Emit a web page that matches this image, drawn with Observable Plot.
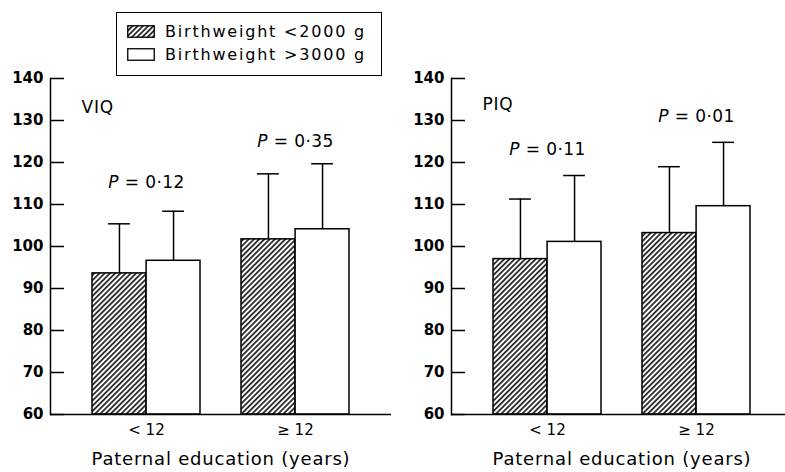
<!DOCTYPE html>
<html>
<head>
<meta charset="utf-8">
<script src="https://cdn.jsdelivr.net/npm/d3@7"></script>
<script src="https://cdn.jsdelivr.net/npm/@observablehq/plot@0.6"></script>
<style>
html, body { margin: 0; padding: 0; background: #fff; overflow: hidden; }
#wrap { position: relative; width: 785px; height: 472px; overflow: hidden; font-family: "DejaVu Sans", sans-serif; color: #000; }
.panel { position: absolute; top: 0; width: 392px; height: 472px; }
.panel svg { max-width: none !important; width: 392px; height: 472px; }
#legend { position: absolute; left: 116px; top: 12px; width: 266px; height: 64px; box-sizing: border-box; border: 1.5px solid #000; background: #fff; z-index: 2; }
#legend .row { position: absolute; left: 10px; height: 22px; display: flex; align-items: center; font-size: 16px; letter-spacing: 1.8px; white-space: nowrap; }
#legend .row svg { margin-right: 10px; }
svg .ptxt text { letter-spacing: 0.4px; }
svg .ttl text { letter-spacing: 0.8px; }
svg .xttl text { letter-spacing: 0.8px; }
</style>
</head>
<body>
<div id="wrap">
  <div id="legend">
    <div class="row" style="top:7px">
      <svg width="28" height="13"><defs>
        <pattern id="hatch" patternUnits="userSpaceOnUse" width="3.7" height="3.7" patternTransform="rotate(45)">
          <rect width="3.7" height="3.7" fill="#fff"></rect>
          <line x1="0.9" y1="0" x2="0.9" y2="3.7" stroke="#000" stroke-width="1.5"></line>
        </pattern></defs>
        <rect x="0.75" y="0.75" width="26.5" height="11.5" fill="url(#hatch)" stroke="#000" stroke-width="1.3"></rect>
      </svg><span id="lg0"></span>
    </div>
    <div class="row" style="top:30px">
      <svg width="28" height="13"><rect x="0.75" y="0.75" width="26.5" height="11.5" fill="#fff" stroke="#000" stroke-width="1.3"></rect></svg><span id="lg1"></span>
    </div>
  </div>
  <div id="left" class="panel" style="left:0px"></div>
  <div id="right" class="panel" style="left:401px"></div>
</div>
<script>
// ---- data ----
const groups = ["< 12", "≥ 12"];
const series = ["Birthweight <2000 g", "Birthweight >3000 g"];
const yTicks = [60, 70, 80, 90, 100, 110, 120, 130, 140];
const xTitle = "Paternal education (years)";

const viqLowMean = [93.6, 101.7];
const viqLowSD = [11.8, 15.6];
const viqHighMean = [96.6, 104.1];
const viqHighSD = [11.8, 15.6];
const viqP = ["P = 0·12", "P = 0·35"];
const viqPY = [115.3, 125.1];

const piqLowMean = [97.0, 103.2];
const piqLowSD = [14.3, 15.8];
const piqHighMean = [101.1, 109.6];
const piqHighSD = [15.8, 15.2];
const piqP = ["P = 0·11", "P = 0·01"];
const piqPY = [123.0, 131.0];

document.getElementById("lg0").textContent = series[0];
document.getElementById("lg1").textContent = series[1];

function panel(title, titleY, lowMean, lowSD, highMean, highSD, pLabels, pY) {
  const W = 392, H = 472, mL = 50, mR = 1, mT = 78, mB = 58;
  const pIn = 0.275, pOut = 0.28;
  const bw = d3.scaleBand().domain(groups).range([mL, W - mR]).paddingInner(pIn).paddingOuter(pOut).bandwidth();
  const low = groups.map((g, i) => ({group: g, mean: lowMean[i], sd: lowSD[i]}));
  const high = groups.map((g, i) => ({group: g, mean: highMean[i], sd: highSD[i]}));
  const pData = groups.map((g, i) => ({group: g, label: pLabels[i], y: pY[i]}));
  const y0 = yTicks[0];
  const capW = 22;
  const capInset = (bw - capW) / 2;
  const sw = 1.5;
  const svg = Plot.plot({
    width: W, height: H,
    marginLeft: mL, marginRight: mR, marginTop: mT, marginBottom: mB,
    style: {fontFamily: "DejaVu Sans", background: "transparent", overflow: "visible", color: "#000"},
    x: {domain: groups, paddingInner: pIn, paddingOuter: pOut},
    y: {domain: [yTicks[0], yTicks[yTicks.length - 1]]},
    marks: [
      // error bars (upper only)
      Plot.ruleX(low, {x: "group", y1: "mean", y2: d => d.mean + d.sd, dx: -bw / 4, stroke: "#000", strokeWidth: sw}),
      Plot.ruleX(high, {x: "group", y1: "mean", y2: d => d.mean + d.sd, dx: bw / 4, stroke: "#000", strokeWidth: sw}),
      Plot.tickY(low, {x: "group", y: d => d.mean + d.sd, dx: -bw / 4, insetLeft: capInset, insetRight: capInset, stroke: "#000", strokeWidth: sw}),
      Plot.tickY(high, {x: "group", y: d => d.mean + d.sd, dx: bw / 4, insetLeft: capInset, insetRight: capInset, stroke: "#000", strokeWidth: sw}),
      // bars
      Plot.barY(low, {x: "group", y1: () => y0, y2: "mean", insetRight: bw / 2, fill: "url(#hatch)", stroke: "#000", strokeWidth: sw}),
      Plot.barY(high, {x: "group", y1: () => y0, y2: "mean", insetLeft: bw / 2, fill: "#fff", stroke: "#000", strokeWidth: sw}),
      // axes
      Plot.ruleY([y0], {stroke: "#000", strokeWidth: sw}),
      Plot.frame({anchor: "left", stroke: "#000", strokeWidth: sw}),
      Plot.axisY({ticks: yTicks, tickFormat: d3.format("d"), tickSize: -14, tickPadding: 21, fontSize: 15, fontWeight: "bold", strokeWidth: sw, label: null}),
      Plot.axisX({tickSize: 0, tickPadding: 10, fontSize: 15, label: null}),
      // annotations
      Plot.text([title], {frameAnchor: "left", y: () => titleY, dx: 31, textAnchor: "start", fontSize: 17, className: "ttl"}),
      Plot.text(pData, {x: "group", y: "y", text: "label", fontSize: 17, className: "ptxt"}),
      Plot.text([xTitle], {frameAnchor: "bottom", dy: 50, fontSize: 18, className: "xttl"})
    ]
  });
  // italic P in the P-value labels
  svg.querySelectorAll(".ptxt text").forEach(t => {
    const s = t.textContent;
    if (s.startsWith("P")) {
      t.textContent = "";
      const ts = document.createElementNS("http://www.w3.org/2000/svg", "tspan");
      ts.setAttribute("font-style", "italic");
      ts.textContent = "P";
      t.appendChild(ts);
      t.appendChild(document.createTextNode(s.slice(1)));
    }
  });
  return svg;
}

document.getElementById("left").appendChild(panel("VIQ", 133.1, viqLowMean, viqLowSD, viqHighMean, viqHighSD, viqP, viqPY));
document.getElementById("right").appendChild(panel("PIQ", 133.7, piqLowMean, piqLowSD, piqHighMean, piqHighSD, piqP, piqPY));
</script>
</body>
</html>
